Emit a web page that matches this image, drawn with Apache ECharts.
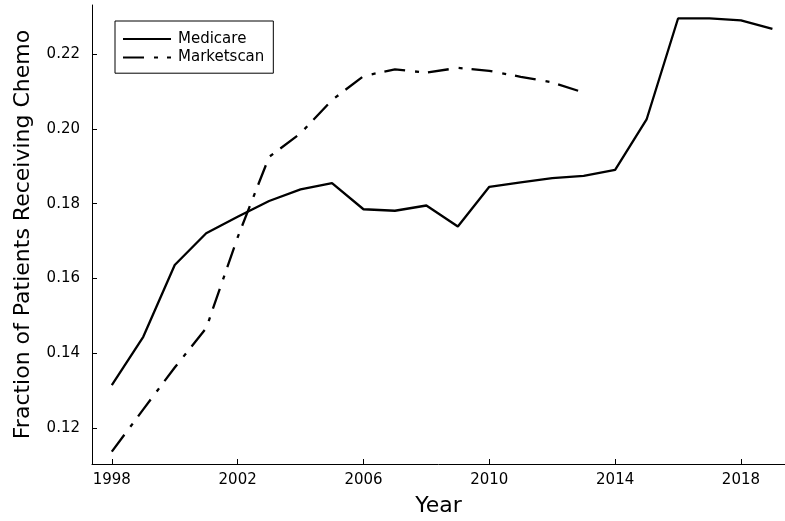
<!DOCTYPE html>
<html>
<head>
<meta charset="utf-8">
<script src="https://cdn.jsdelivr.net/npm/echarts@6/dist/echarts.min.js"></script>
<style>html,body{margin:0;padding:0;background:#fff}#c{width:785px;height:521px}</style>
</head>
<body>
<div id="c"></div>
<script>
const years = [1998,1999,2000,2001,2002,2003,2004,2005,2006,2007,2008,2009,2010,2011,2012,2013,2014,2015,2016,2017,2018,2019];
const medicare = [0.1315,0.1444,0.1636,0.1721,0.1765,0.1807,0.1838,0.1855,0.1785,0.1781,0.1795,0.1739,0.1845,0.1857,0.1868,0.1874,0.1890,0.2025,0.2295,0.2295,0.2290,0.2267];
const marketscanYears = [1998,1999,2000,2001,2002,2003,2004,2005,2006,2007,2008,2009,2010,2011,2012,2013];
const marketscan = [0.1137,0.1250,0.1362,0.1467,0.1710,0.1925,0.1988,0.2077,0.2141,0.2159,0.2150,0.2163,0.2155,0.2139,0.2124,0.2097];
const xTicks = [1998,2002,2006,2010,2014,2018];
const yTicks = [0.12,0.14,0.16,0.18,0.20,0.22];

const font = 'DejaVu Sans';
const chart = echarts.init(document.getElementById('c'), null, {renderer:'canvas'});
chart.setOption({
  animation: false,
  backgroundColor: '#fff',
  textStyle: {fontFamily: font, color: '#000'},
  grid: {left: 92, top: 5, right: 0, bottom: 57, containLabel: false, outerBoundsMode: 'none'},
  legend: {
    left: 115, top: 21,
    orient: 'vertical',
    itemWidth: 48, itemHeight: 14, itemGap: 3.4,
    borderColor: '#000', borderWidth: 1, borderRadius: 0,
    padding: [10.5, 9, 8.3, 7],
    itemStyle: {opacity: 0},
    textStyle: {fontFamily: font, fontSize: 15, lineHeight: 15, color: '#000', padding: [0,0,0,2]},
    data: ['Medicare', 'Marketscan']
  },
  xAxis: {
    type: 'value', min: 1997.37, max: 2019.4,
    name: 'Year', nameLocation: 'middle', nameGap: 31,
    nameTextStyle: {fontFamily: font, fontSize: 22, color: '#000'},
    axisLine: {show: true, lineStyle: {color: '#000', width: 1}},
    axisTick: {show: true, inside: true, length: 5, customValues: xTicks, lineStyle: {color: '#000'}},
    axisLabel: {customValues: xTicks, fontFamily: font, fontSize: 15, color: '#000', margin: 9, formatter: v => String(v)},
    splitLine: {show: false}
  },
  yAxis: {
    type: 'value', min: 0.1104, max: 0.2331,
    name: 'Fraction of Patients Receiving Chemo', nameLocation: 'middle', nameGap: 58,
    nameTextStyle: {fontFamily: font, fontSize: 22, color: '#000'},
    axisLine: {show: true, lineStyle: {color: '#000', width: 1}},
    axisTick: {show: true, inside: true, length: 5, customValues: yTicks, lineStyle: {color: '#000'}},
    axisLabel: {customValues: yTicks, fontFamily: font, fontSize: 15, color: '#000', margin: 12, formatter: v => v.toFixed(2)},
    splitLine: {show: false}
  },
  series: [
    {
      name: 'Medicare', type: 'line', showSymbol: false, symbol: 'none',
      data: years.map((y, i) => [y, medicare[i]]),
      lineStyle: {color: '#000', width: 2.3, type: 'solid'},
      itemStyle: {color: '#000'}
    },
    {
      name: 'Marketscan', type: 'line', showSymbol: false, symbol: 'none',
      data: marketscanYears.map((y, i) => [y, marketscan[i]]),
      lineStyle: {color: '#000', width: 2.3, type: [21, 10, 4, 9]},
      itemStyle: {color: '#000'}
    }
  ]
});
</script>
</body>
</html>
